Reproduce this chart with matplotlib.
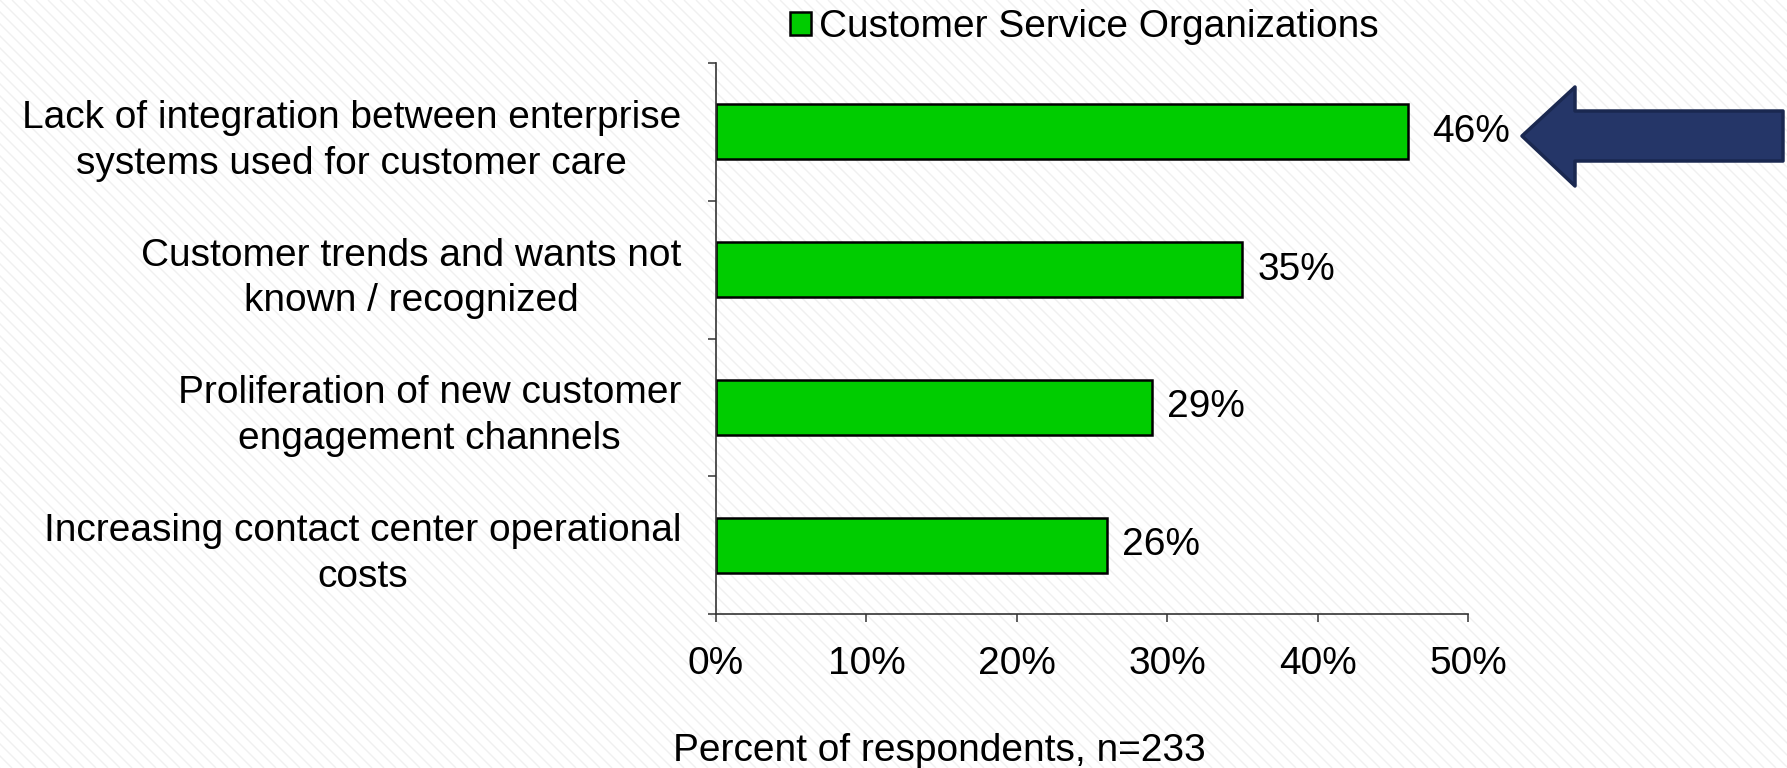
import matplotlib.pyplot as plt
from matplotlib.patches import Polygon
import numpy as np

plt.rcParams['font.family'] = ['Liberation Sans', 'DejaVu Sans']

categories = [
    "Lack of integration between enterprise\nsystems used for customer care",
    "Customer trends and wants not\nknown / recognized",
    "Proliferation of new customer\nengagement channels",
    "Increasing contact center operational\ncosts",
]
values = [46, 35, 29, 26]
series_name = "Customer Service Organizations"
xticks = [0, 10, 20, 30, 40, 50]
xlabel = "Percent of respondents, n=233"

W, H = 1787, 768
FS = 28
fig = plt.figure(figsize=(W / 100, H / 100), dpi=100)
fig.patch.set_facecolor('white')

# фон: светлые диагональные полосы, в пикселях
bg = fig.add_axes([0, 0, 1, 1], zorder=0)
bg.set_xlim(0, W)
bg.set_ylim(H, 0)
bg.axis('off')
for c in range(-H, W, 12):
    bg.plot([c, c + H], [0, H], color='#f0f0f0', lw=1.0, solid_capstyle='butt')

# основной график
ax = fig.add_axes([716 / W, 1 - 614 / H, (1468 - 716) / W, (614 - 63) / H], zorder=1)
ax.patch.set_alpha(0)
y = np.arange(len(categories))
bars = ax.barh(y, values, height=0.4, color='#00cc00', edgecolor='black', linewidth=1.8,
               label=series_name)
for yi, v in zip(y, values):
    # у первой подписи отступ больше (рядом стрелка)
    off = 1.6 if yi == 0 else 1.0
    ax.text(v + off, yi, f'{v}%', va='center', ha='left', fontsize=FS)

ax.set_xlim(0, 50)
ax.set_ylim(len(categories) - 0.5, -0.5)
ax.set_xticks(xticks)
ax.set_xticklabels([f'{t}%' for t in xticks], fontsize=FS)
ax.set_yticks(np.arange(len(categories) + 1) - 0.5)
ax.set_yticklabels([])
ax.set_yticks(y, minor=True)
ax.set_yticklabels(categories, minor=True, fontsize=FS, ha='right', linespacing=1.35)
for lab in ax.get_yticklabels(minor=True):
    lab.set_multialignment('center')
ax.tick_params(axis='y', which='minor', length=0, pad=25)
ax.tick_params(axis='y', which='major', length=6, width=1.2, color='#444444')
ax.tick_params(axis='x', length=6, width=1.2, color='#444444', pad=17)
for s in ['top', 'right']:
    ax.spines[s].set_visible(False)
for s in ['left', 'bottom']:
    ax.spines[s].set_color('#333333')
    ax.spines[s].set_linewidth(1.2)

fig.text(939 / W, 1 - 751 / H, xlabel, fontsize=FS, ha='center', va='center')

h, l = ax.get_legend_handles_labels()
fig.legend(h, l, loc='center', bbox_to_anchor=(1084 / W, 1 - 27 / H), frameon=False,
           fontsize=FS, handlelength=0.55, handleheight=0.55, handletextpad=0.2,
           borderpad=0, borderaxespad=0)

# стрелка справа
fig_ax = fig.add_axes([0, 0, 1, 1], zorder=2)
fig_ax.set_xlim(0, W)
fig_ax.set_ylim(H, 0)
fig_ax.axis('off')
arrow = Polygon([(1522, 136), (1575, 87), (1575, 111), (1783, 111), (1783, 161),
                 (1575, 161), (1575, 186)], closed=True, facecolor='#253668',
                edgecolor='#1a2850', linewidth=2.5, joinstyle='round')
fig_ax.add_patch(arrow)

fig.savefig('out.png', dpi=100)
